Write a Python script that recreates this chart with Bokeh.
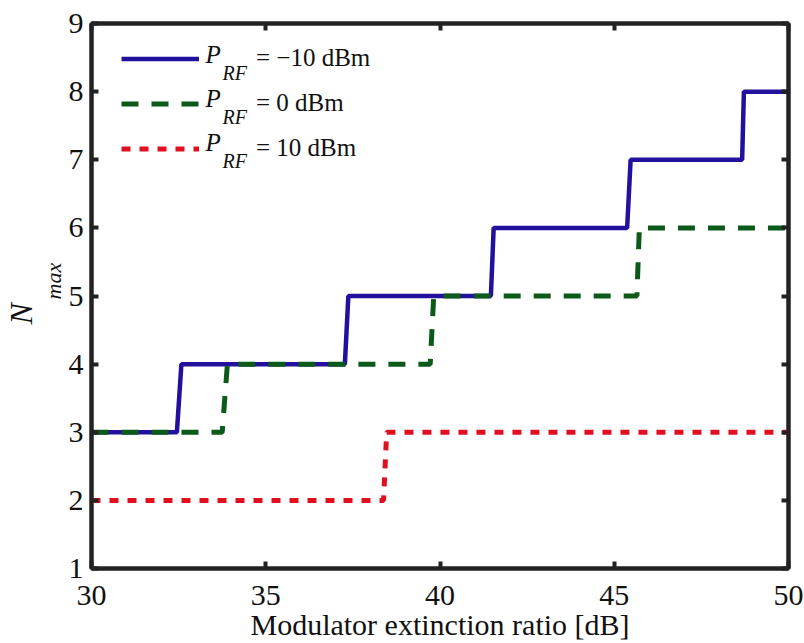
import numpy as np
from bokeh.plotting import figure
from bokeh.models import (Range1d, LinearAxis, Legend, LegendItem, Label, Title,
                          FixedTicker, CustomJSTickFormatter)
from bokeh.embed import file_html
from bokeh.resources import INLINE

# ---- data ----
blue_x = [30, 32.45, 32.58, 37.27, 37.37, 41.46, 41.54, 45.37, 45.47, 48.67, 48.72, 50]
blue_y = [3, 3, 4, 4, 5, 5, 6, 6, 7, 7, 8, 8]
green_x = [30, 33.75, 33.9, 39.72, 39.82, 45.65, 45.72, 50]
green_y = [3, 3, 4, 4, 5, 5, 6, 6]
red_x = [30, 38.38, 38.47, 50]
red_y = [2, 2, 3, 3]

x_ticks = [30, 35, 40, 45, 50]
y_ticks = [1, 2, 3, 4, 5, 6, 7, 8, 9]
legend_values = ["= \u221210 dBm", "= 0 dBm", "= 10 dBm"]
x_label = "Modulator extinction ratio [dB]"

FONT = "Liberation Serif"
AX = "#222222"
TXT = "#111111"

p = figure(width=804, height=643, output_backend="svg", toolbar_location=None,
           x_range=Range1d(30, 50), y_range=Range1d(1, 9),
           min_border_left=90, min_border_right=16, min_border_top=23,
           min_border_bottom=74)
p.grid.visible = False
p.outline_line_color = AX
p.outline_line_width = 4
p.background_fill_color = "white"
p.border_fill_color = "white"

for ax in (p.xaxis[0], p.yaxis[0]):
    ax.axis_line_color = AX
    ax.axis_line_width = 4
    ax.major_tick_in = 7
    ax.major_tick_out = 0
    ax.major_tick_line_width = 4
    ax.major_tick_line_color = AX
    ax.minor_tick_line_color = None
    ax.major_label_text_font = FONT
    ax.major_label_text_font_size = "30px"
    ax.major_label_text_color = TXT

p.xaxis[0].ticker = FixedTicker(ticks=x_ticks)
p.yaxis[0].ticker = FixedTicker(ticks=y_ticks)
p.xaxis[0].major_label_standoff = 17
p.yaxis[0].major_label_standoff = 8
p.xaxis[0].axis_label = x_label
p.xaxis[0].axis_label_text_font = FONT
p.xaxis[0].axis_label_text_font_style = "normal"
p.xaxis[0].axis_label_text_font_size = "30px"
p.xaxis[0].axis_label_text_color = TXT
p.xaxis[0].axis_label_standoff = 0

empty = CustomJSTickFormatter(code="return ''")
top = LinearAxis(ticker=FixedTicker(ticks=x_ticks), formatter=empty)
right = LinearAxis(ticker=FixedTicker(ticks=y_ticks), formatter=empty)
for ax in (top, right):
    ax.axis_line_color = AX
    ax.axis_line_width = 4
    ax.major_tick_in = 7
    ax.major_tick_out = 0
    ax.major_tick_line_width = 4
    ax.major_tick_line_color = AX
    ax.minor_tick_line_color = None
    ax.major_label_standoff = 0
p.add_layout(top, "above")
p.add_layout(right, "right")

# y-axis label N_max as two side titles
t_max = Title(text="max", align="left", offset=269, standoff=0,
              text_font=FONT, text_font_style="italic", text_font_size="22px",
              text_color=TXT, text_line_height=1.0)
t_n = Title(text="N", align="left", offset=244, standoff=0,
            text_font=FONT, text_font_style="italic", text_font_size="32px",
            text_color=TXT, text_line_height=1.0)
p.add_layout(t_max, "left")
p.add_layout(t_n, "left")

r_blue = p.line(blue_x, blue_y, line_color="#22109e", line_width=4.5)
r_green = p.line(green_x, green_y, line_color="#0b5a1a", line_width=5,
                 line_dash="17 13")
r_red = p.line(red_x, red_y, line_color="#e0101e", line_width=5,
               line_dash="9 9")

legend = Legend(items=[LegendItem(label=legend_values[0], renderers=[r_blue]),
                       LegendItem(label=legend_values[1], renderers=[r_green]),
                       LegendItem(label=legend_values[2], renderers=[r_red])],
                location=(30, 406), margin=0, padding=0,
                glyph_width=78, glyph_height=27, label_height=27,
                label_standoff=57, spacing=17,
                label_text_font=FONT, label_text_font_size="25px",
                label_text_color=TXT,
                border_line_color=None, background_fill_alpha=0)
p.add_layout(legend)

# P_RF prefixes for legend entries (frame-relative screen units)
for i in range(3):
    base = 501 - 44 * i
    p.add_layout(Label(x=114, y=base, x_units="screen", y_units="screen", text="P",
                       text_font=FONT, text_font_style="italic",
                       text_font_size="25px", text_color=TXT))
    p.add_layout(Label(x=131, y=base - 16, x_units="screen", y_units="screen", text="RF",
                       text_font=FONT, text_font_style="italic",
                       text_font_size="20px", text_color=TXT))

open("out.html", "w").write(file_html(p, INLINE))
